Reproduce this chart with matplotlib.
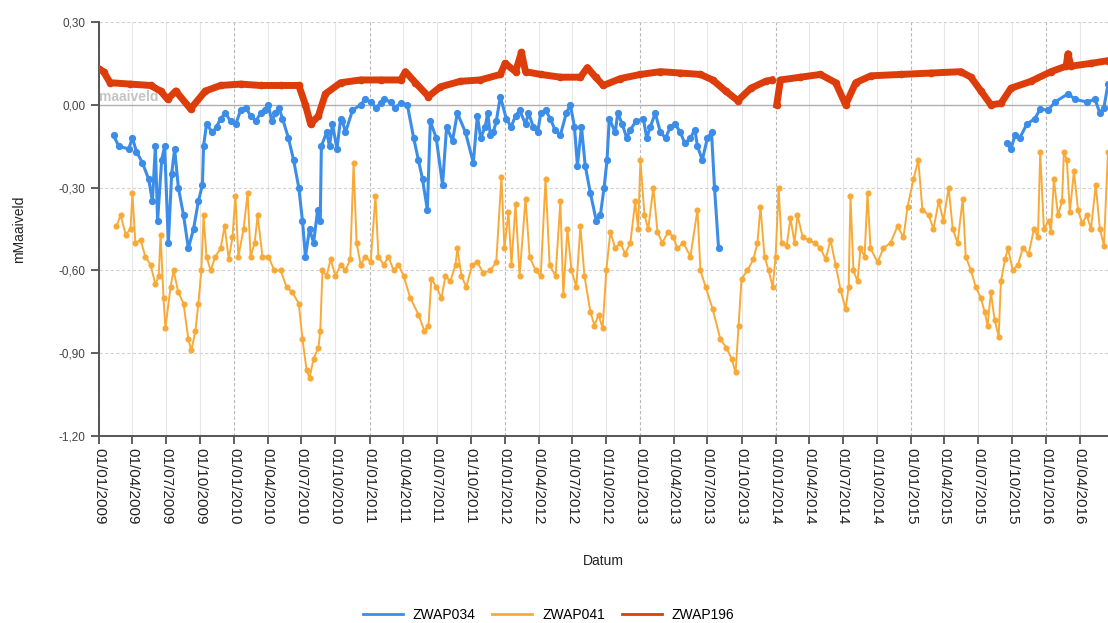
import numpy as np
import pandas as pd
import matplotlib
matplotlib.use("Agg")
import matplotlib.pyplot as plt
import matplotlib.dates as mdates
from matplotlib.ticker import FuncFormatter

plt.rcParams['font.family'] = ['Liberation Sans', 'DejaVu Sans']

# ---------------- data (groundwater level, m relative to surface) ----------------
zwap196_dates = [
    "2009-01-01", "2009-01-13", "2009-01-31", "2009-03-26", "2009-05-20", "2009-06-16",
    "2009-07-05", "2009-07-27", "2009-09-05", "2009-10-15", "2009-11-25", "2010-01-18",
    "2010-03-13", "2010-05-06", "2010-06-24", "2010-07-12", "2010-07-26", "2010-08-16",
    "2010-09-04", "2010-10-15", "2010-12-08", "2011-01-31", "2011-03-26", "2011-04-08",
    "2011-05-05", "2011-06-09", "2011-07-11", "2011-09-03", "2011-10-27", "2011-12-20",
    "2012-01-02", "2012-01-30", "2012-02-15", "2012-02-26", "2012-04-07", "2012-05-30",
    "2012-07-23", "2012-08-11", "2012-09-02", "2012-09-23", "2012-11-08", "2013-01-01",
    "2013-02-24", "2013-04-19", "2013-06-12", "2013-07-15", "2013-08-19", "2013-09-21",
    "2013-10-26", "2013-12-05", "2013-12-21", "2013-12-28", "2014-01-04", "2014-01-14",
    "2014-03-09", "2014-05-02", "2014-06-12", "2014-07-09", "2014-08-05", "2014-09-15",
    "2014-12-05", "2015-02-24", "2015-05-16", "2015-06-12", "2015-07-09", "2015-08-05",
    "2015-09-01", "2015-09-28", "2015-11-21", "2016-01-14", "2016-02-24", "2016-02-29",
    "2016-03-08", "2016-05-01", "2016-06-16",
]
zwap196_values = [
    0.13, 0.12, 0.08, 0.075, 0.07, 0.05,
    0.02, 0.05, -0.015, 0.05, 0.07, 0.075,
    0.07, 0.07, 0.07, 0.0, -0.07, -0.04,
    0.04, 0.08, 0.09, 0.09, 0.09, 0.12,
    0.08, 0.03, 0.065, 0.085, 0.09, 0.11,
    0.15, 0.12, 0.19, 0.12, 0.11, 0.10,
    0.10, 0.135, 0.10, 0.07, 0.095, 0.11,
    0.12, 0.115, 0.11, 0.09, 0.05, 0.015,
    0.06, 0.085, 0.09, None, 0.0, 0.09,
    0.10, 0.11, 0.08, 0.0, 0.08, 0.105,
    0.11, 0.115, 0.12, 0.10, 0.05, 0.0,
    0.005, 0.06, 0.085, 0.12, 0.14, 0.185,
    0.14, 0.15, 0.16,
]

zwap034_dates = [
    "2009-02-09", "2009-02-23", "2009-03-22", "2009-04-01", "2009-04-12", "2009-04-28",
    "2009-05-15", "2009-05-25", "2009-06-02", "2009-06-08", "2009-06-19", "2009-06-27",
    "2009-07-07", "2009-07-16", "2009-07-24", "2009-08-03", "2009-08-17", "2009-08-30",
    "2009-09-13", "2009-09-26", "2009-10-07", "2009-10-10", "2009-10-18", "2009-11-03",
    "2009-11-14", "2009-11-25", "2009-12-08", "2009-12-22", "2010-01-05", "2010-01-18",
    "2010-02-01", "2010-02-14", "2010-02-28", "2010-03-13", "2010-03-25", "2010-04-03",
    "2010-04-12", "2010-04-22", "2010-05-01", "2010-05-11", "2010-05-27", "2010-06-10",
    "2010-06-24", "2010-07-04", "2010-07-12", "2010-07-23", "2010-08-03", "2010-08-14",
    "2010-08-21", "2010-08-24", "2010-09-07", "2010-09-15", "2010-09-23", "2010-10-05",
    "2010-10-15", "2010-10-20", "2010-10-28", "2010-11-16", "2010-12-08", "2010-12-20",
    "2011-01-04", "2011-01-18", "2011-01-31", "2011-02-10", "2011-02-27", "2011-03-10",
    "2011-03-26", "2011-04-13", "2011-04-30", "2011-05-13", "2011-05-24", "2011-06-06",
    "2011-06-14", "2011-06-30", "2011-07-17", "2011-07-28", "2011-08-13", "2011-08-26",
    "2011-09-17", "2011-10-08", "2011-10-19", "2011-10-28", "2011-11-09", "2011-11-16",
    "2011-11-23", "2011-12-01", "2011-12-09", "2011-12-20", "2012-01-05", "2012-01-18",
    "2012-01-30", "2012-02-10", "2012-02-26", "2012-03-05", "2012-03-18", "2012-03-30",
    "2012-04-07", "2012-04-20", "2012-05-03", "2012-05-15", "2012-05-30", "2012-06-15",
    "2012-06-26", "2012-07-07", "2012-07-15", "2012-07-26", "2012-08-05", "2012-08-19",
    "2012-09-04", "2012-09-15", "2012-09-25", "2012-10-03", "2012-10-09", "2012-10-25",
    "2012-11-01", "2012-11-13", "2012-11-25", "2012-12-05", "2012-12-20", "2013-01-09",
    "2013-01-18", "2013-01-28", "2013-02-10", "2013-02-24", "2013-03-10", "2013-03-23",
    "2013-04-05", "2013-04-19", "2013-05-01", "2013-05-16", "2013-05-28", "2013-06-04",
    "2013-06-17", "2013-07-01", "2013-07-12", "2013-07-20", "2013-07-31", "2014-08-01",
    "2015-09-17", "2015-09-28", "2015-10-09", "2015-10-22", "2015-11-10", "2015-12-02",
    "2015-12-16", "2016-01-06", "2016-01-25", "2016-02-29", "2016-03-19", "2016-04-20",
    "2016-05-12", "2016-05-25", "2016-06-05", "2016-06-16",
]
zwap034_values = [
    -0.11, -0.15, -0.16, -0.12, -0.17, -0.21,
    -0.27, -0.35, -0.15, -0.42, -0.20, -0.15,
    -0.50, -0.25, -0.16, -0.30, -0.40, -0.52,
    -0.45, -0.35, -0.29, -0.15, -0.07, -0.10,
    -0.08, -0.05, -0.03, -0.06, -0.07, -0.02,
    -0.01, -0.04, -0.06, -0.03, -0.02, 0.00,
    -0.06, -0.03, -0.01, -0.05, -0.12, -0.20,
    -0.30, -0.42, -0.55, -0.45, -0.50, -0.38,
    -0.42, -0.15, -0.10, -0.15, -0.07, -0.16,
    -0.05, -0.06, -0.10, -0.02, 0.00, 0.02,
    0.01, -0.01, 0.005, 0.02, 0.01, -0.01,
    0.005, 0.00, -0.12, -0.20, -0.27, -0.38,
    -0.06, -0.12, -0.29, -0.08, -0.13, -0.03,
    -0.10, -0.21, -0.04, -0.12, -0.08, -0.03,
    -0.11, -0.10, -0.06, 0.03, -0.05, -0.08,
    -0.04, -0.02, -0.07, -0.03, -0.08, -0.10,
    -0.03, -0.02, -0.05, -0.09, -0.11, -0.03,
    0.00, -0.08, -0.22, -0.08, -0.22, -0.32,
    -0.42, -0.40, -0.30, -0.20, -0.05, -0.10,
    -0.03, -0.07, -0.12, -0.09, -0.06, -0.05,
    -0.12, -0.08, -0.03, -0.10, -0.12, -0.08,
    -0.07, -0.10, -0.14, -0.12, -0.09, -0.15,
    -0.20, -0.12, -0.10, -0.30, -0.52, None,
    -0.14, -0.16, -0.11, -0.12, -0.07, -0.05,
    -0.015, -0.02, 0.01, 0.04, 0.02, 0.01,
    0.02, -0.03, -0.01, 0.075,
]

zwap041_dates = [
    "2009-02-17", "2009-02-28", "2009-03-14", "2009-03-27", "2009-04-01", "2009-04-09",
    "2009-04-23", "2009-05-06", "2009-05-20", "2009-06-02", "2009-06-11", "2009-06-16",
    "2009-06-24", "2009-06-29", "2009-07-13", "2009-07-21", "2009-08-03", "2009-08-17",
    "2009-08-30", "2009-09-07", "2009-09-18", "2009-09-26", "2009-10-04", "2009-10-10",
    "2009-10-18", "2009-10-29", "2009-11-11", "2009-11-25", "2009-12-06", "2009-12-17",
    "2009-12-27", "2010-01-04", "2010-01-12", "2010-01-26", "2010-02-06", "2010-02-14",
    "2010-02-25", "2010-03-05", "2010-03-18", "2010-04-03", "2010-04-19", "2010-05-06",
    "2010-05-22", "2010-06-07", "2010-06-24", "2010-07-04", "2010-07-15", "2010-07-23",
    "2010-08-03", "2010-08-16", "2010-08-21", "2010-08-27", "2010-09-07", "2010-09-18",
    "2010-10-01", "2010-10-15", "2010-10-28", "2010-11-10", "2010-11-19", "2010-11-27",
    "2010-12-08", "2010-12-21", "2011-01-04", "2011-01-17", "2011-01-25", "2011-02-08",
    "2011-02-21", "2011-03-07", "2011-03-20", "2011-04-03", "2011-04-21", "2011-05-13",
    "2011-05-29", "2011-06-09", "2011-06-17", "2011-06-30", "2011-07-14", "2011-07-25",
    "2011-08-07", "2011-08-21", "2011-08-26", "2011-09-06", "2011-09-19", "2011-10-05",
    "2011-10-19", "2011-11-04", "2011-11-23", "2011-12-09", "2011-12-23", "2011-12-31",
    "2012-01-11", "2012-01-19", "2012-01-30", "2012-02-10", "2012-02-26", "2012-03-08",
    "2012-03-24", "2012-04-07", "2012-04-20", "2012-05-01", "2012-05-17", "2012-05-30",
    "2012-06-07", "2012-06-18", "2012-06-29", "2012-07-12", "2012-07-23", "2012-08-03",
    "2012-08-19", "2012-08-30", "2012-09-10", "2012-09-21", "2012-10-01", "2012-10-12",
    "2012-10-25", "2012-11-08", "2012-11-21", "2012-12-05", "2012-12-18", "2012-12-26",
    "2013-01-01", "2013-01-12", "2013-01-22", "2013-02-05", "2013-02-16", "2013-03-01",
    "2013-03-17", "2013-03-31", "2013-04-11", "2013-04-27", "2013-05-16", "2013-06-04",
    "2013-06-12", "2013-06-26", "2013-07-15", "2013-08-05", "2013-08-21", "2013-09-04",
    "2013-09-15", "2013-09-23", "2013-10-01", "2013-10-17", "2013-11-02", "2013-11-13",
    "2013-11-21", "2013-12-02", "2013-12-13", "2013-12-24", "2014-01-01", "2014-01-09",
    "2014-01-17", "2014-01-31", "2014-02-10", "2014-02-21", "2014-03-01", "2014-03-15",
    "2014-03-31", "2014-04-16", "2014-05-02", "2014-05-16", "2014-05-29", "2014-06-12",
    "2014-06-25", "2014-07-09", "2014-07-17", "2014-07-22", "2014-07-30", "2014-08-10",
    "2014-08-18", "2014-08-29", "2014-09-06", "2014-09-14", "2014-10-03", "2014-10-19",
    "2014-11-07", "2014-11-26", "2014-12-12", "2014-12-23", "2015-01-08", "2015-01-21",
    "2015-02-01", "2015-02-18", "2015-03-03", "2015-03-17", "2015-03-30", "2015-04-13",
    "2015-04-24", "2015-05-07", "2015-05-21", "2015-05-29", "2015-06-12", "2015-06-25",
    "2015-07-09", "2015-07-19", "2015-07-27", "2015-08-05", "2015-08-15", "2015-08-26",
    "2015-09-01", "2015-09-12", "2015-09-20", "2015-10-03", "2015-10-17", "2015-10-30",
    "2015-11-15", "2015-11-29", "2015-12-10", "2015-12-16", "2015-12-26", "2016-01-08",
    "2016-01-14", "2016-01-22", "2016-02-02", "2016-02-13", "2016-02-18", "2016-02-26",
    "2016-03-05", "2016-03-16", "2016-03-27", "2016-04-07", "2016-04-20", "2016-05-01",
    "2016-05-14", "2016-05-25", "2016-06-05", "2016-06-16",
]
zwap041_values = [
    -0.44, -0.40, -0.47, -0.45, -0.32, -0.50,
    -0.49, -0.55, -0.58, -0.65, -0.62, -0.47,
    -0.70, -0.81, -0.66, -0.60, -0.68, -0.72,
    -0.85, -0.89, -0.82, -0.72, -0.60, -0.40,
    -0.55, -0.60, -0.55, -0.52, -0.44, -0.56,
    -0.48, -0.33, -0.55, -0.45, -0.32, -0.55,
    -0.50, -0.40, -0.55, -0.55, -0.60, -0.60,
    -0.66, -0.68, -0.72, -0.85, -0.96, -0.99,
    -0.92, -0.88, -0.82, -0.60, -0.62, -0.56,
    -0.62, -0.58, -0.60, -0.56, -0.21, -0.50,
    -0.58, -0.55, -0.57, -0.33, -0.55, -0.58,
    -0.55, -0.60, -0.58, -0.62, -0.70, -0.76,
    -0.82, -0.80, -0.63, -0.66, -0.70, -0.62,
    -0.64, -0.58, -0.52, -0.62, -0.66, -0.58,
    -0.57, -0.61, -0.60, -0.57, -0.26, -0.52,
    -0.39, -0.58, -0.36, -0.62, -0.34, -0.55,
    -0.60, -0.62, -0.27, -0.58, -0.62, -0.35,
    -0.69, -0.45, -0.60, -0.66, -0.44, -0.62,
    -0.75, -0.80, -0.76, -0.81, -0.60, -0.46,
    -0.52, -0.50, -0.54, -0.50, -0.35, -0.45,
    -0.20, -0.40, -0.45, -0.30, -0.46, -0.50,
    -0.46, -0.48, -0.52, -0.50, -0.55, -0.38,
    -0.60, -0.66, -0.74, -0.85, -0.88, -0.92,
    -0.97, -0.80, -0.63, -0.60, -0.56, -0.50,
    -0.37, -0.55, -0.60, -0.66, -0.55, -0.30,
    -0.50, -0.51, -0.41, -0.50, -0.40, -0.48,
    -0.49, -0.50, -0.52, -0.56, -0.49, -0.58,
    -0.67, -0.74, -0.66, -0.33, -0.60, -0.64,
    -0.52, -0.55, -0.32, -0.52, -0.57, -0.52,
    -0.50, -0.44, -0.48, -0.37, -0.27, -0.20,
    -0.38, -0.40, -0.45, -0.35, -0.42, -0.30,
    -0.45, -0.50, -0.34, -0.55, -0.60, -0.66,
    -0.70, -0.75, -0.80, -0.68, -0.78, -0.84,
    -0.64, -0.56, -0.52, -0.60, -0.58, -0.52,
    -0.54, -0.45, -0.48, -0.17, -0.45, -0.42,
    -0.46, -0.27, -0.40, -0.35, -0.17, -0.20,
    -0.39, -0.24, -0.38, -0.43, -0.40, -0.45,
    -0.29, -0.45, -0.51, -0.17,
]

series_names = ["ZWAP034", "ZWAP041", "ZWAP196"]
series_colors = ["#3b8de8", "#f8aa38", "#dd3d0b"]

y_ticks = [0.30, 0.00, -0.30, -0.60, -0.90, -1.20]
x_start, x_end = "2009-01-01", "2016-06-16"


def to_series(dates, values):
    s = pd.Series(pd.to_numeric(pd.Series(values), errors="coerce").values,
                  index=pd.to_datetime(dates))
    return s.sort_index()


s034 = to_series(zwap034_dates, zwap034_values)
s041 = to_series(zwap041_dates, zwap041_values)
s196 = to_series(zwap196_dates, zwap196_values)

# ---------------- figure ----------------
fig = plt.figure(figsize=(11.08, 6.23), dpi=100)
ax = fig.add_axes([0.0894, 0.3002, 0.9106, 0.6645])

ax.set_xlim(pd.Timestamp(x_start), pd.Timestamp(x_end))
ax.set_ylim(min(y_ticks), max(y_ticks))

# quarterly grid, yearly lines dashed and a bit darker
quarters = pd.date_range(x_start, x_end, freq="QS-JAN")
for d in quarters:
    if d.month == 1:
        ax.axvline(d, color="#b8b8b8", lw=0.8, ls=(0, (3, 2)), zorder=0)
    else:
        ax.axvline(d, color="#e6e6e6", lw=0.8, zorder=0)
for v in y_ticks:
    if v != 0:
        ax.axhline(v, color="#d2d2d2", lw=0.8, ls=(0, (3, 2)), zorder=0)

# surface level reference
ax.axhline(0.0, color="#b0b0b0", lw=1.0, zorder=1)
ax.text(pd.Timestamp("2009-01-02"), 0.002, "maaiveld", color="#c4c4c4",
        fontsize=10, fontweight="bold", ha="left", va="bottom", zorder=1)

ax.plot(s041.index, s041.values, color=series_colors[1], lw=1.4, marker="o",
        ms=3.4, zorder=3, label=series_names[1])
ax.plot(s034.index, s034.values, color=series_colors[0], lw=2.2, marker="o",
        ms=4.2, zorder=4, label=series_names[0])
ax.plot(s196.index, s196.values, color=series_colors[2], lw=5.0, marker="o",
        ms=4.5, zorder=5, label=series_names[2])

# axes styling
for side in ("top", "right"):
    ax.spines[side].set_visible(False)
for side in ("left", "bottom"):
    ax.spines[side].set_color("#555555")
    ax.spines[side].set_linewidth(1.4)

ax.set_yticks(y_ticks)
ax.yaxis.set_major_formatter(FuncFormatter(lambda v, p: f"{v:.2f}".replace(".", ",")))
ax.set_xticks(quarters)
ax.xaxis.set_major_formatter(mdates.DateFormatter("%d/%m/%Y"))
ax.tick_params(axis="y", labelsize=8.5, colors="#444444", length=6, width=1.2)
ax.tick_params(axis="x", labelsize=11, colors="#444444", length=6, width=1.2,
               labelrotation=270, pad=3)
for lbl in ax.get_xticklabels():
    lbl.set_color("#222222")

ax.set_ylabel("mMaaiveld", fontsize=10, color="#222222")
ax.yaxis.set_label_coords(-0.072, 0.5)
ax.set_xlabel("Datum", fontsize=10, color="#222222")
ax.xaxis.set_label_coords(0.5, -0.285)

leg_handles = [plt.Line2D([], [], color=series_colors[i], lw=2) for i in range(3)]
fig.legend(leg_handles, series_names, loc="center", bbox_to_anchor=(0.495, 0.013),
           ncol=3, frameon=False, fontsize=10, handlelength=2.9, columnspacing=1.2,
           handletextpad=0.7)

fig.savefig("out.png", dpi=100)
